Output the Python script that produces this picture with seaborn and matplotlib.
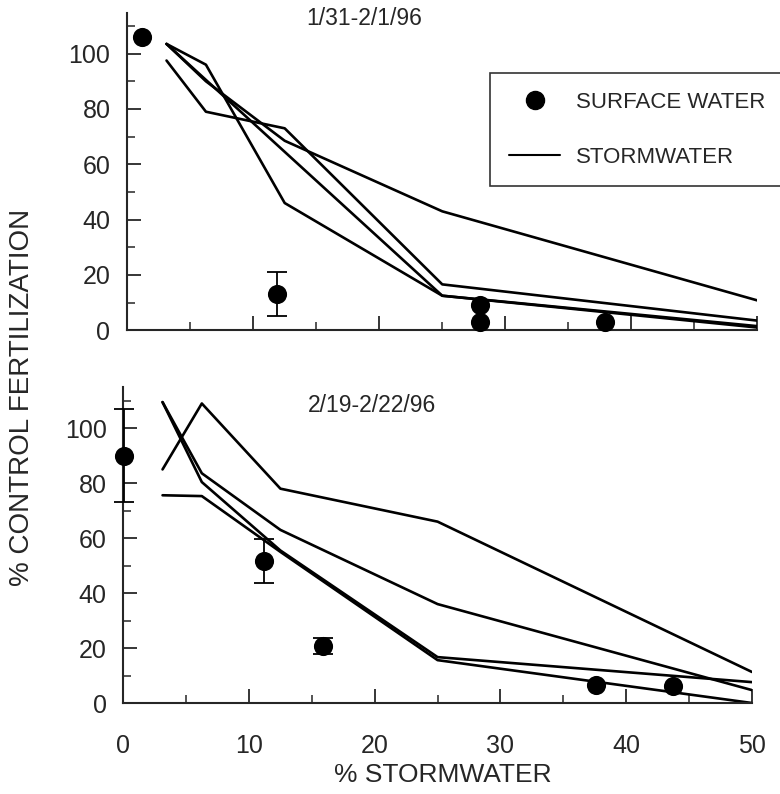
import matplotlib
import matplotlib.pyplot as plt
import pandas as pd
import seaborn as sns
from matplotlib.lines import Line2D
from matplotlib.ticker import MultipleLocator

matplotlib.use("Agg")

# stormwater dilution series (% stormwater)
conc = [3.125, 6.25, 12.5, 25, 50]

# panel 1: 1/31-2/1/96, four stormwater samples
storm_top = {
    "A": [103.5, 96, 46, 12.5, 1.5],
    "B": [103.5, 90, 68.5, 43, 10.8],
    "C": [103.5, 90.5, 64.5, 12.5, 1.0],
    "D": [97.5, 79, 73, 16.6, 3.5],
}
surf_top_x = [1.2, 11.9, 28.0, 28.0, 37.9]
surf_top_y = [106, 13, 9, 3, 3]
surf_top_err = [0, 8, 0, 0, 0]

# panel 2: 2/19-2/22/96
storm_bot = {
    "A": [85, 109, 78, 66, 11.3],
    "B": [75.6, 75.3, 55, 15.6, 0.0],
    "C": [109.5, 83.6, 63, 36, 4.7],
    "D": [109.5, 80.4, 55.5, 16.7, 7.6],
}
surf_bot_x = [0.1, 11.2, 15.9, 37.6, 43.7]
surf_bot_y = [90, 51.6, 20.7, 6.5, 6.2]
surf_bot_err = [17, 8, 3, 0, 0]


def storm_frame(series: dict) -> pd.DataFrame:
    rows = []
    for name, vals in series.items():
        for c, v in zip(conc, vals):
            rows.append({"sample": name, "conc": c, "fert": v})
    return pd.DataFrame(rows)


def draw_panel(ax, series, sx, sy, serr, title, title_xy, ymax):
    df = storm_frame(series)
    sns.lineplot(
        data=df, x="conc", y="fert", units="sample", estimator=None,
        color="black", linewidth=1.9, ax=ax, legend=False,
    )
    for x, y, e in zip(sx, sy, serr):
        if e > 0:
            ax.errorbar(x, y, yerr=e, fmt="none", ecolor="black",
                        elinewidth=1.3, capsize=7, capthick=1.3, clip_on=False, zorder=4)
    pts = pd.DataFrame({"x": sx, "y": sy})
    sns.scatterplot(data=pts, x="x", y="y", color="black", s=190,
                    edgecolor="black", linewidth=0, ax=ax, zorder=5, clip_on=False)

    ax.set_xlim(0, 50)
    ax.set_ylim(0, ymax)
    ax.xaxis.set_major_locator(MultipleLocator(10))
    ax.xaxis.set_minor_locator(MultipleLocator(5))
    ax.yaxis.set_major_locator(MultipleLocator(20))
    ax.yaxis.set_minor_locator(MultipleLocator(10))
    ax.tick_params(which="major", direction="in", length=10, width=1.3, labelsize=18)
    ax.tick_params(which="minor", direction="in", length=6, width=1.1)
    ax.tick_params(axis="y", pad=12)
    ax.tick_params(axis="x", pad=22)
    for side in ["top", "right"]:
        ax.spines[side].set_visible(False)
    for side in ["left", "bottom"]:
        ax.spines[side].set_linewidth(1.5)
    ax.set_xlabel("")
    ax.set_ylabel("")
    ax.text(title_xy[0], title_xy[1], title, transform=ax.transAxes,
            ha="center", va="center", fontsize=16.5)


sns.set_style("ticks")
plt.rcParams["font.family"] = ["Liberation Sans", "DejaVu Sans"]

fig = plt.figure(figsize=(7.8, 7.94), dpi=100, facecolor="white")
ax_top = fig.add_axes([0.163, 0.584, 0.808, 0.399])
ax_bot = fig.add_axes([0.158, 0.1146, 0.806, 0.398])

draw_panel(ax_top, storm_top, surf_top_x, surf_top_y, surf_top_err,
           "1/31-2/1/96", (0.376, 0.984), 114.5)
draw_panel(ax_bot, storm_bot, surf_bot_x, surf_bot_y, surf_bot_err,
           "2/19-2/22/96", (0.396, 0.943), 115)
ax_top.tick_params(axis="x", labelbottom=False)

handles = [
    Line2D([], [], marker="o", color="black", linestyle="none", markersize=13),
    Line2D([], [], color="black", linewidth=1.5),
]
leg = ax_top.legend(
    handles, ["SURFACE WATER", "STORMWATER"], loc="upper left",
    bbox_to_anchor=(0.576, 0.811), fontsize=16,
    frameon=True, fancybox=False, edgecolor="black", handlelength=2.3,
    handletextpad=0.7, labelspacing=1.5, borderpad=0.85, borderaxespad=0,
)
leg.get_frame().set_linewidth(1.2)
leg.set_clip_on(False)

fig.text(0.028, 0.5, "% CONTROL FERTILIZATION", rotation=90,
         ha="center", va="center", fontsize=20)
fig.text(0.568, 0.024, "% STORMWATER", ha="center", va="center", fontsize=19)

fig.savefig("out.png", dpi=100, facecolor="white")
plt.close(fig)
